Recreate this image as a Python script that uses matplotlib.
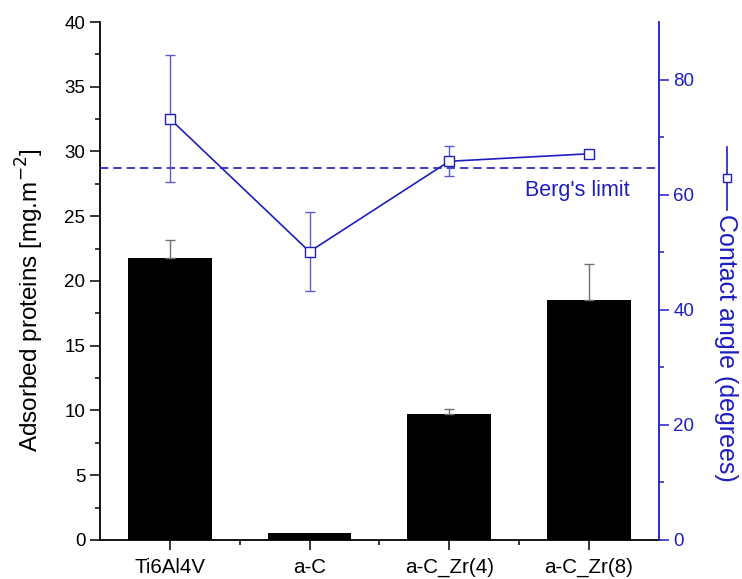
import numpy as np
import matplotlib
matplotlib.use("Agg")
import matplotlib.pyplot as plt
from matplotlib.lines import Line2D

plt.rcParams['font.family'] = ['Liberation Sans', 'DejaVu Sans']

samples = ['Ti6Al4V', 'a-C', 'a-C_Zr(4)', 'a-C_Zr(8)']
proteins = [21.8, 0.55, 9.75, 18.5]
proteins_err = [1.4, 0.0, 0.4, 2.8]
angle = [73.2, 50.1, 65.8, 67.1]
angle_err = [11.0, 6.9, 2.6, 0.0]
berg_limit = 64.7

blue = '#1E1EC0'
x = np.arange(1, len(samples) + 1)

fig = plt.figure(figsize=(7.42, 5.79), dpi=100)
ax = fig.add_axes([0.1348, 0.0674, 0.7529, 0.8946])

ax.bar(x, proteins, width=0.6, color='black', zorder=2)
has_err = np.array(proteins_err) > 0
ax.errorbar(x[has_err], np.array(proteins)[has_err],
            yerr=[np.zeros(has_err.sum()), np.array(proteins_err)[has_err]],
            fmt='none', ecolor='#707070', elinewidth=1.0, capsize=3.6, capthick=1.0, zorder=3)

ax.set_xlim(0.5, 4.5)
ax.set_ylim(0, 40)
ax.set_xticks(x)
ax.set_xticklabels(samples)
ax.set_xticks([1.5, 2.5, 3.5], minor=True)
ax.set_yticks(np.arange(0, 41, 5))
ax.set_yticks(np.arange(2.5, 40, 5), minor=True)
ax.tick_params(which='major', direction='out', length=7, width=1.1, labelsize=13.5)
ax.tick_params(axis='x', which='major', labelsize=14.8, pad=6)
ax.tick_params(which='minor', direction='out', length=3.8, width=1.1)
ax.spines['top'].set_visible(False)
ax.spines['right'].set_visible(False)
for s in ['left', 'bottom']:
    ax.spines[s].set_linewidth(1.3)

ax2 = ax.twinx()
ax2.set_ylim(0, 90)
ax2.set_yticks([0, 20, 40, 60, 80])
ax2.set_yticks([10, 30, 50, 70], minor=True)
ax2.tick_params(which='major', direction='out', length=7, width=1.1, colors=blue, labelsize=13.5)
ax2.tick_params(which='minor', direction='out', length=3.8, width=1.1, colors=blue)
ax2.spines['top'].set_visible(False)
ax2.spines['left'].set_visible(False)
ax2.spines['bottom'].set_visible(False)
ax2.spines['right'].set_color(blue)
ax2.spines['right'].set_linewidth(1.3)

ax2.axhline(berg_limit, color=blue, lw=1.2, linestyle=(0, (5, 3)), zorder=2)
ax2.errorbar(x, angle, yerr=angle_err, fmt='none', ecolor='#5A5ACF',
             elinewidth=1.0, capsize=3.6, capthick=1.0, zorder=3)
ax2.plot(x, angle, color=blue, lw=1.2, marker='s', markersize=7,
         markerfacecolor='white', markeredgecolor=blue, markeredgewidth=1.0, zorder=4)
ax2.text(4.29, 62.5, "Berg's limit", color=blue, fontsize=15.5, ha='right', va='top')

fig.text(0.040, 0.482, 'Adsorbed proteins [mg.m$^{-2}$]', rotation=90,
         ha='center', va='center', fontsize=17.5)
fig.text(0.978, 0.400, 'Contact angle (degrees)', rotation=270,
         ha='center', va='center', fontsize=18, color=blue)
# legend key in front of the right label
fig.add_artist(Line2D([0.980, 0.980], [1 - 147 / 579, 1 - 210 / 579],
                      transform=fig.transFigure, color=blue, lw=1.2))
fig.add_artist(Line2D([0.980], [1 - 178 / 579], transform=fig.transFigure,
                      marker='s', markersize=6, markerfacecolor='white',
                      markeredgecolor=blue, markeredgewidth=1.0))

fig.savefig('out.png', dpi=100)
